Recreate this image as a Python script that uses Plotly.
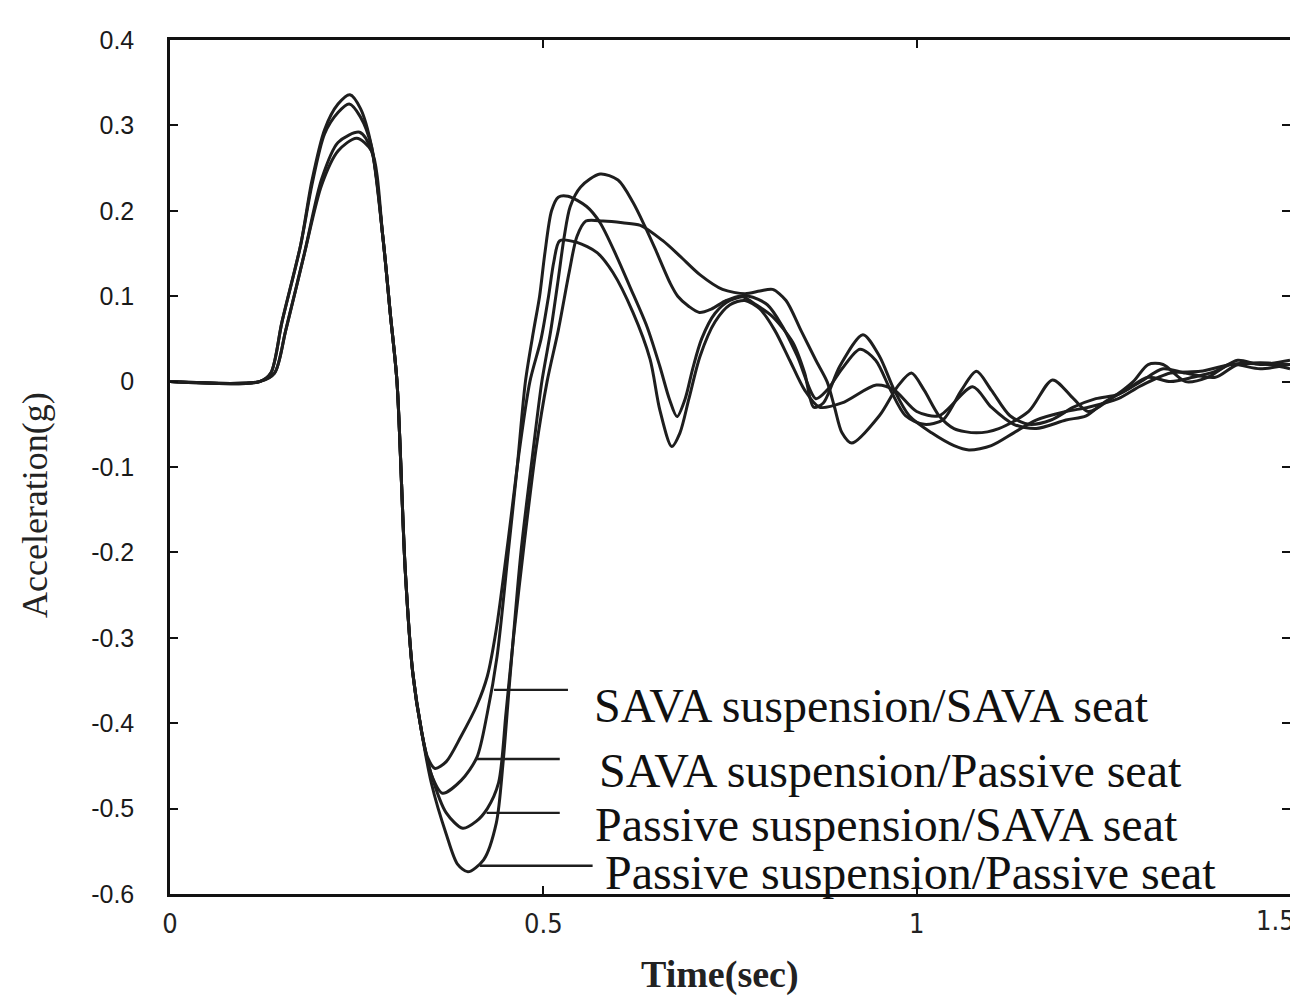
import plotly.graph_objects as go

# ---------------- data ----------------
# SAVA suspension / SAVA seat
t_sava_sava = [0, 0.12, 0.14, 0.155, 0.18, 0.203, 0.225, 0.254, 0.27, 0.285, 0.295, 0.304, 0.315, 0.325, 0.337,
               0.345, 0.355, 0.37, 0.39, 0.411, 0.425, 0.437, 0.453, 0.468, 0.482, 0.497, 0.507, 0.514, 0.522,
               0.545, 0.572, 0.593, 0.62, 0.643, 0.656, 0.672, 0.683, 0.695, 0.71, 0.73, 0.75, 0.77, 0.79, 0.81,
               0.83, 0.85, 0.87, 0.9, 0.946, 0.97, 1.0, 1.03, 1.075, 1.1, 1.13, 1.16, 1.2, 1.227, 1.25, 1.28,
               1.31, 1.34, 1.37, 1.4, 1.43, 1.46, 1.5]
a_sava_sava = [0, 0, 0.01, 0.06, 0.15, 0.237, 0.28, 0.292, 0.27, 0.17, 0.08, 0.0, -0.22, -0.34, -0.41,
               -0.44, -0.453, -0.445, -0.415, -0.379, -0.345, -0.29, -0.185, -0.08, 0.0, 0.05, 0.1, 0.14, 0.165,
               0.163, 0.151, 0.128, 0.081, 0.026, -0.033, -0.076, -0.06, -0.02, 0.03, 0.07, 0.09, 0.095, 0.085, 0.06,
               0.025, -0.01, -0.03, -0.025, -0.004, -0.01, -0.035, -0.04, -0.006, -0.03, -0.05, -0.055, -0.045, -0.04, -0.025, -0.01,
               0.005, 0.0, 0.005, 0.012, 0.025, 0.02, 0.025]

# SAVA suspension / Passive seat
t_sava_passive = [0, 0.12, 0.14, 0.155, 0.18, 0.203, 0.225, 0.25, 0.27, 0.285, 0.295, 0.304, 0.315, 0.325, 0.337,
                  0.35, 0.365, 0.39, 0.411, 0.425, 0.438, 0.453, 0.465, 0.476, 0.487, 0.495, 0.502, 0.511, 0.52,
                  0.533, 0.558, 0.576, 0.598, 0.616, 0.639, 0.656, 0.669, 0.679, 0.69, 0.7, 0.712, 0.73, 0.75,
                  0.775, 0.8, 0.82, 0.84, 0.865, 0.88, 0.9, 0.924, 0.945, 0.965, 0.985, 1.01, 1.035, 1.06, 1.08,
                  1.1, 1.125, 1.15, 1.18, 1.21, 1.24, 1.27, 1.3, 1.33, 1.36, 1.4, 1.43, 1.47, 1.5]
a_sava_passive = [0, 0, 0.01, 0.06, 0.15, 0.23, 0.27, 0.285, 0.27, 0.17, 0.08, 0.0, -0.22, -0.34, -0.41,
                  -0.46, -0.482, -0.467, -0.44, -0.388, -0.322, -0.2, -0.1, 0.0, 0.06, 0.1, 0.15, 0.2, 0.216,
                  0.217, 0.205, 0.186, 0.147, 0.111, 0.064, 0.018, -0.021, -0.041, -0.02, 0.015, 0.05, 0.08, 0.095,
                  0.1, 0.09, 0.065, 0.03, -0.02, -0.01, 0.015, 0.038, 0.025, -0.01, -0.04, -0.05, -0.045, -0.01, 0.012,
                  -0.01, -0.04, -0.05, -0.045, -0.03, -0.02, -0.015, 0.0, 0.015, 0.01, 0.005, 0.02, 0.02, 0.015]

# Passive suspension / SAVA seat
t_passive_sava = [0, 0.12, 0.135, 0.15, 0.175, 0.19, 0.207, 0.225, 0.24, 0.255, 0.27, 0.285, 0.295, 0.304, 0.315,
                  0.325, 0.337, 0.35, 0.37, 0.392, 0.41, 0.425, 0.44, 0.45, 0.46, 0.475, 0.49, 0.505, 0.52, 0.535,
                  0.545, 0.557, 0.58, 0.606, 0.63, 0.66, 0.683, 0.71, 0.74, 0.77, 0.79, 0.807, 0.825, 0.845, 0.865,
                  0.88, 0.89, 0.9, 0.913, 0.95, 0.975, 0.993, 1.01, 1.03, 1.05, 1.08, 1.11, 1.15, 1.182, 1.21, 1.23,
                  1.26, 1.29, 1.31, 1.33, 1.36, 1.39, 1.42, 1.46, 1.5]
a_passive_sava = [0, 0, 0.01, 0.07, 0.16, 0.23, 0.29, 0.315, 0.325, 0.31, 0.275, 0.17, 0.08, 0.0, -0.22,
                  -0.34, -0.41, -0.46, -0.505, -0.523, -0.515, -0.5, -0.47, -0.388, -0.3, -0.185, -0.08, 0.0, 0.06, 0.13,
                  0.17, 0.188, 0.188, 0.186, 0.183, 0.165, 0.147, 0.125, 0.108, 0.103, 0.106, 0.108, 0.095, 0.06, 0.025,
                  0.0, -0.03, -0.06, -0.072, -0.04, -0.005, 0.01, -0.01, -0.04, -0.055, -0.06, -0.055, -0.035, 0.002, -0.02, -0.035,
                  -0.02, 0.0, 0.02, 0.02, 0.0, 0.005, 0.02, 0.015, 0.02]

# Passive suspension / Passive seat
t_passive_passive = [0, 0.12, 0.135, 0.15, 0.175, 0.19, 0.207, 0.225, 0.241, 0.255, 0.27, 0.285, 0.295, 0.304, 0.315,
                     0.325, 0.337, 0.35, 0.37, 0.385, 0.399, 0.42, 0.437, 0.446, 0.455, 0.47, 0.485, 0.498, 0.51, 0.52,
                     0.528, 0.536, 0.55, 0.576, 0.6, 0.62, 0.637, 0.65, 0.67, 0.68, 0.695, 0.709, 0.725, 0.745, 0.765,
                     0.785, 0.807, 0.834, 0.85, 0.862, 0.875, 0.897, 0.928, 0.95, 0.97, 0.99, 1.02, 1.05, 1.07, 1.1,
                     1.13, 1.16, 1.2, 1.23, 1.27, 1.3, 1.34, 1.38, 1.42, 1.46, 1.5]
a_passive_passive = [0, 0, 0.01, 0.07, 0.16, 0.235, 0.295, 0.325, 0.336, 0.32, 0.275, 0.17, 0.08, 0.0, -0.22,
                     -0.34, -0.41, -0.47, -0.53, -0.565, -0.574, -0.56, -0.517, -0.447, -0.35, -0.2, -0.09, 0.0, 0.06, 0.12,
                     0.17, 0.205, 0.228, 0.243, 0.236, 0.21, 0.18, 0.155, 0.115, 0.1, 0.088, 0.081, 0.085, 0.095, 0.1,
                     0.09, 0.076, 0.046, 0.01, -0.03, -0.025, 0.018, 0.055, 0.03, -0.01, -0.04, -0.06, -0.075, -0.08, -0.075,
                     -0.06, -0.045, -0.035, -0.03, -0.02, -0.005, 0.01, 0.012, 0.02, 0.022, 0.02]

series_names = ["SAVA suspension/SAVA seat", "SAVA suspension/Passive seat",
                "Passive suspension/SAVA seat", "Passive suspension/Passive seat"]
series_t = [t_sava_sava, t_sava_passive, t_passive_sava, t_passive_passive]
series_a = [a_sava_sava, a_sava_passive, a_passive_sava, a_passive_passive]

x_tickvals = [0, 0.5, 1, 1.5]
x_ticktext = ["0", "0.5", "1", "1.5"]
y_tickvals = [0.4, 0.3, 0.2, 0.1, 0, -0.1, -0.2, -0.3, -0.4, -0.5, -0.6]
y_ticktext = ["0.4", "0.3", "0.2", "0.1", "0", "-0.1", "-0.2", "-0.3", "-0.4", "-0.5", "-0.6"]

# ---------------- figure ----------------
LINE = "#1e1e1e"
SERIF = "Liberation Serif, Times New Roman, serif"
XFONT = dict(family="Liberation Sans Narrow, DejaVu Sans Condensed, Liberation Sans, Arial", size=27, color="#222")
fig = go.Figure()
for name, t, a in zip(series_names, series_t, series_a):
    fig.add_trace(go.Scatter(x=t, y=a, mode="lines", name=name,
                             line=dict(color=LINE, width=3, shape="spline", smoothing=0.8),
                             showlegend=False, hoverinfo="x+y+name"))

# leader lines + labels (label positions in data coords)
label_pos = [  # (line start t, line end t, line a, text t, text a)
    (0.434, 0.533, -0.361, 0.565, -0.379),
    (0.411, 0.522, -0.442, 0.572, -0.455),
    (0.424, 0.522, -0.505, 0.566, -0.519),
    (0.415, 0.566, -0.567, 0.580, -0.575),
]
for name, (x0, x1, yl, tx, ty) in zip(series_names, label_pos):
    fig.add_shape(type="line", xref="x", yref="y", x0=x0, x1=x1, y0=yl, y1=yl,
                  line=dict(color=LINE, width=2.4))
    fig.add_annotation(x=tx, y=ty, xref="x", yref="y", text=name, showarrow=False,
                       xanchor="left", yanchor="middle",
                       font=dict(family=SERIF, size=48, color="#111"))

# last x tick label, right-aligned so that it stays inside the page
tick_labels_shown = [txt if v < x_tickvals[-1] else "" for v, txt in zip(x_tickvals, x_ticktext)]
fig.add_annotation(x=x_tickvals[-1], y=0, xref="x", yref="paper", text=x_ticktext[-1],
                   showarrow=False, xanchor="right", yanchor="top", xshift=7, yshift=-9,
                   font=XFONT)

# axis titles
fig.add_annotation(x=-0.1205, y=0.4555, xref="paper", yref="paper", text="Acceleration(g)",
                   textangle=-90, showarrow=False, xanchor="center", yanchor="middle",
                   font=dict(family=SERIF, size=36, color="#222"))
fig.add_annotation(x=0.491, y=-0.0948, xref="paper", yref="paper", text="<b>Time(sec)</b>",
                   showarrow=False, xanchor="center", yanchor="middle",
                   font=dict(family=SERIF, size=38, color="#222"))

fig.update_layout(
    width=1290, height=991,
    margin=dict(l=162, r=8, t=32, b=105, autoexpand=False),
    paper_bgcolor="white", plot_bgcolor="white",
    xaxis=dict(range=[0, 1.5], tickvals=x_tickvals, ticktext=tick_labels_shown, automargin=False,
               showgrid=False, zeroline=False, showline=True, linecolor="#111", linewidth=2.5,
               mirror="ticks", ticks="inside", ticklen=8, tickwidth=2, tickcolor="#111",
               ticklabelstandoff=4, tickfont=XFONT),
    yaxis=dict(range=[-0.6, 0.4], tickvals=y_tickvals, ticktext=y_ticktext, automargin=False,
               showgrid=False, zeroline=False, showline=True, linecolor="#111", linewidth=2.5,
               mirror="ticks", ticks="inside", ticklen=8, tickwidth=2, tickcolor="#111",
               ticklabelstandoff=28,
               tickfont=dict(family="Liberation Sans, Arial", size=25, color="#1a1a1a")),
)

fig.write_html("out.html")
